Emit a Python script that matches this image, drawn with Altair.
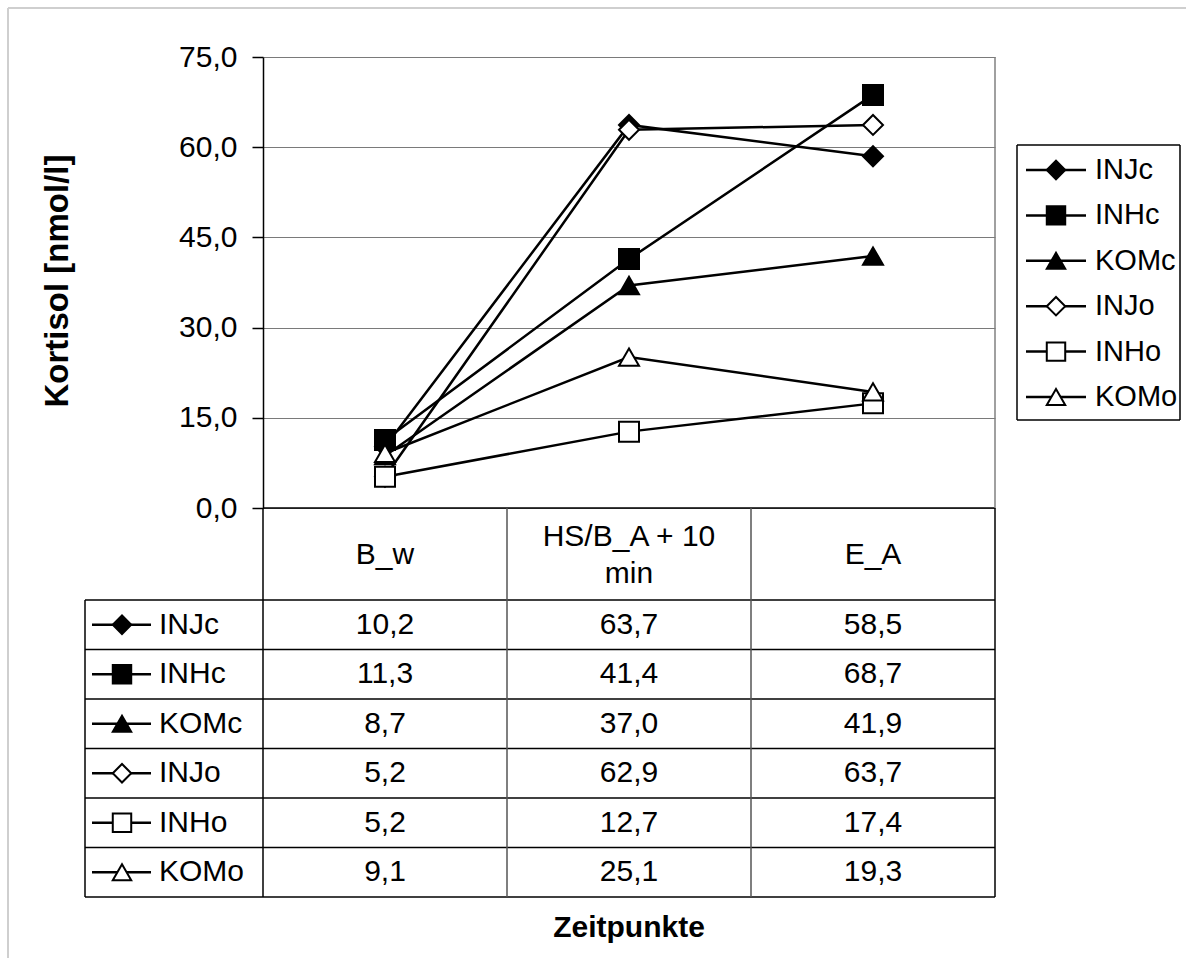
import textwrap

import altair as alt
import pandas as pd

# Cortisol means (nmol/l) per group at three time points
zeitpunkte = ["B_w", "HS/B_A + 10 min", "E_A"]
gruppen = ["INJc", "INHc", "KOMc", "INJo", "INHo", "KOMo"]
injc = [10.2, 63.7, 58.5]
inhc = [11.3, 41.4, 68.7]
komc = [8.7, 37.0, 41.9]
injo = [5.2, 62.9, 63.7]
inho = [5.2, 12.7, 17.4]
komo = [9.1, 25.1, 19.3]
y_ticks = [0, 15, 30, 45, 60, 75]

werte = [injc, inhc, komc, injo, inho, komo]

# Marker style per group: filled shapes for "c", open shapes for "o"
shapes = ["diamond", "square", "triangle-up", "diamond", "square", "triangle-up"]
fills = ["black", "black", "black", "white", "white", "white"]

FONT = "Liberation Sans"
FS = 30

# Layout (pixels, relative to the plot area's top-left corner)
W, H = 732, 451
LEFT, TOP = 263, 57
TOTAL_W, TOTAL_H = 1190, 958
COL = W / 3
LABEL_LEFT = -178
HEAD_BOTTOM = 543
ROW_H = 49.5
TABLE_BOTTOM = HEAD_BOTTOM + ROW_H * len(gruppen)
LEG_L, LEG_R, LEG_T, LEG_B = 754, 917, 88, 363
LEG_Y0, LEG_STEP = 113, 45.4
LINE_H = 37

rows = []
for g, vals in zip(gruppen, werte):
    for i, v in enumerate(vals):
        rows.append({"group": g, "idx": i + 1, "value": v,
                     "label": f"{v:.1f}".replace(".", ",")})
df = pd.DataFrame(rows)
df["row"] = df["group"].map({g: k for k, g in enumerate(gruppen)})
df["ty"] = HEAD_BOTTOM + ROW_H * (df["row"] + 0.5)

x_scale = alt.Scale(domain=[0.5, 3.5], nice=False, zero=False)
y_scale = alt.Scale(domain=[0, 75], nice=False, zero=False)
shape_scale = alt.Scale(domain=gruppen, range=shapes)
fill_scale = alt.Scale(domain=gruppen, range=fills)
PX = dict(scale=None, axis=None)

label_expr = "replace(format(datum.value, '.1f'), '.', ',')"

# Series lines, carrying the cortisol axis
lines = alt.Chart(df).mark_line(color="black", strokeWidth=2.5).encode(
    x=alt.X("idx:Q", scale=x_scale, axis=None),
    y=alt.Y("value:Q", scale=y_scale, axis=alt.Axis(
        values=y_ticks, labelExpr=label_expr, title="Kortisol [nmol/l]",
        tickSize=11, labelPadding=15, tickColor="black", domainColor="black",
        domainWidth=1.5, tickWidth=1.5, grid=True, gridColor="#7a7a7a",
        gridWidth=1.2, labelFont=FONT, labelFontSize=FS, labelColor="black",
        titleFont=FONT, titleFontSize=33, titleFontWeight="bold",
        titleColor="black", titleX=-206, titleY=H / 2 - 2, titleAngle=-90,
        titleBaseline="middle", titleAlign="center")),
    detail="group:N",
    order="idx:Q",
)

points = alt.Chart(df).mark_point(size=400, stroke="black", strokeWidth=2,
                                  opacity=1, fillOpacity=1).encode(
    x=alt.X("idx:Q", scale=x_scale, axis=None),
    y=alt.Y("value:Q", scale=y_scale),
    shape=alt.Shape("group:N", scale=shape_scale, legend=None),
    fill=alt.Fill("group:N", scale=fill_scale, legend=None),
)

# Table grid, plot frame and legend box: horizontal and vertical segments
hseg, vseg = [], []
hseg.append({"x": 0, "x2": W, "y": H, "c": "black"})
for k in range(len(gruppen) + 1):
    hseg.append({"x": LABEL_LEFT, "x2": W, "y": HEAD_BOTTOM + ROW_H * k, "c": "black"})
hseg.append({"x": LEG_L, "x2": LEG_R, "y": LEG_T, "c": "black"})
hseg.append({"x": LEG_L, "x2": LEG_R, "y": LEG_B, "c": "black"})
vseg.append({"x": LABEL_LEFT, "y": HEAD_BOTTOM, "y2": TABLE_BOTTOM, "c": "black"})
vseg.append({"x": 0, "y": H, "y2": TABLE_BOTTOM, "c": "black"})
for k in (1, 2):
    vseg.append({"x": COL * k, "y": H, "y2": TABLE_BOTTOM, "c": "#555555"})
vseg.append({"x": W, "y": H, "y2": TABLE_BOTTOM, "c": "black"})
vseg.append({"x": W, "y": 0, "y2": H, "c": "#808080"})
vseg.append({"x": LEG_L, "y": LEG_T, "y2": LEG_B, "c": "black"})
vseg.append({"x": LEG_R, "y": LEG_T, "y2": LEG_B, "c": "black"})

hgrid = alt.Chart(pd.DataFrame(hseg)).mark_rule(strokeWidth=1.5).encode(
    x=alt.X("x:Q", **PX), x2="x2:Q", y=alt.Y("y:Q", **PX),
    color=alt.Color("c:N", scale=None),
)
vgrid = alt.Chart(pd.DataFrame(vseg)).mark_rule(strokeWidth=1.5).encode(
    x=alt.X("x:Q", **PX), y=alt.Y("y:Q", **PX), y2="y2:Q",
    color=alt.Color("c:N", scale=None),
)

# Outer frame: left and top edges
frame_left = alt.Chart(pd.DataFrame({"x": [-255], "y": [-49], "y2": [TOTAL_H - TOP]})).mark_rule(
    strokeWidth=2, color="#cfcfcf").encode(
    x=alt.X("x:Q", **PX), y=alt.Y("y:Q", **PX), y2="y2:Q")
frame_top = alt.Chart(pd.DataFrame({"x": [-255], "x2": [TOTAL_W - LEFT - 4], "y": [-49]})).mark_rule(
    strokeWidth=2, color="#cfcfcf").encode(
    x=alt.X("x:Q", **PX), x2="x2:Q", y=alt.Y("y:Q", **PX))

# Symbol keys: table label column and legend
keys = []
for k, g in enumerate(gruppen):
    keys.append({"group": g, "cx": -141, "x1": -171, "x2": -112,
                 "tx": -104, "cy": HEAD_BOTTOM + ROW_H * (k + 0.5), "fs": FS})
    keys.append({"group": g, "cx": 793, "x1": 763, "x2": 823,
                 "tx": 832, "cy": LEG_Y0 + LEG_STEP * k, "fs": 29})
keys_df = pd.DataFrame(keys)
key_lines = alt.Chart(keys_df).mark_rule(color="black", strokeWidth=2.5).encode(
    x=alt.X("x1:Q", **PX), x2="x2:Q", y=alt.Y("cy:Q", **PX),
)
key_points = alt.Chart(keys_df).mark_point(size=340, stroke="black",
                                           strokeWidth=2, opacity=1,
                                           fillOpacity=1).encode(
    x=alt.X("cx:Q", **PX), y=alt.Y("cy:Q", **PX),
    shape=alt.Shape("group:N", scale=shape_scale, legend=None),
    fill=alt.Fill("group:N", scale=fill_scale, legend=None),
)
key_text = alt.Chart(keys_df).mark_text(
    align="left", baseline="middle", font=FONT, color="black"
).encode(x=alt.X("tx:Q", **PX), y=alt.Y("cy:Q", **PX), text="group:N",
         size=alt.Size("fs:Q", scale=None, legend=None))

# Table values
cells = alt.Chart(df).mark_text(
    align="center", baseline="middle", font=FONT, fontSize=FS, color="black"
).encode(
    x=alt.X("idx:Q", scale=x_scale, axis=None),
    y=alt.Y("ty:Q", **PX),
    text="label:N",
)

# Column headers (time points), wrapped and centred in the header row
head_rows = []
mid = (H + HEAD_BOTTOM) / 2
for i, z in enumerate(zeitpunkte):
    parts = textwrap.wrap(z, 12)
    for j, part in enumerate(parts):
        head_rows.append({"idx": i + 1, "t": part,
                          "hy": mid + 1 + (j - (len(parts) - 1) / 2) * LINE_H})
head_df = pd.DataFrame(head_rows)
heads = alt.Chart(head_df).mark_text(
    align="center", baseline="middle", font=FONT, fontSize=FS, color="black",
).encode(
    x=alt.X("idx:Q", scale=x_scale, axis=None),
    y=alt.Y("hy:Q", **PX),
    text="t:N",
)

# X-axis title
xt_df = pd.DataFrame({"t": ["Zeitpunkte"], "x": [W / 2], "y": [871]})
x_title = alt.Chart(xt_df).mark_text(
    align="center", baseline="middle", font=FONT, fontSize=30,
    fontWeight="bold", color="black",
).encode(x=alt.X("x:Q", **PX), y=alt.Y("y:Q", **PX), text="t:N")

chart = alt.layer(
    lines, frame_left, frame_top, hgrid, vgrid, points, key_lines,
    key_points, key_text, cells, heads, x_title,
).properties(
    width=W, height=H,
    autosize=alt.AutoSizeParams(type="none"),
    padding={"left": LEFT, "top": TOP, "right": TOTAL_W - LEFT - W,
             "bottom": TOTAL_H - TOP - H},
    background="white",
).configure(font=FONT).configure_view(stroke=None)

chart.save("out.html", embed_options={"renderer": "svg", "actions": False})
